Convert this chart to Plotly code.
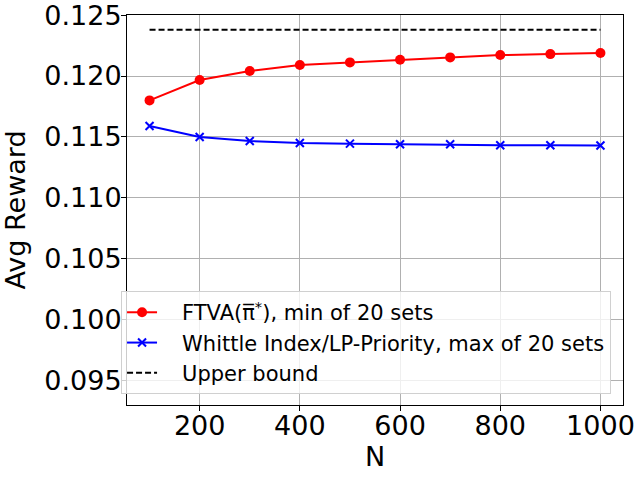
import plotly.graph_objects as go

N = [100, 200, 300, 400, 500, 600, 700, 800, 900, 1000]
ftva = [0.1180, 0.11967, 0.12041, 0.12090, 0.12112, 0.12134, 0.12153, 0.12172, 0.12180, 0.12189]
whittle = [0.1159, 0.1150, 0.11467, 0.11451, 0.11445, 0.11440, 0.11440, 0.11432, 0.11432, 0.11430]
upper = [0.1238] * len(N)
yticks = [0.095, 0.100, 0.105, 0.110, 0.115, 0.120, 0.125]
xticks = [200, 400, 600, 800, 1000]

FONT = "DejaVu Sans"

fig = go.Figure()
fig.add_trace(go.Scatter(x=N, y=ftva, mode="lines+markers",
                         name="   FTVA(π\u0305<sup>*</sup>), min of 20 sets",
                         line=dict(color="red", width=2),
                         marker=dict(symbol="circle", size=10, color="red")))
fig.add_trace(go.Scatter(x=N, y=whittle, mode="lines+markers",
                         name="   Whittle Index/LP-Priority, max of 20 sets",
                         line=dict(color="blue", width=2),
                         marker=dict(symbol="x-thin", size=8, color="blue",
                                     line=dict(color="blue", width=2))))
fig.add_trace(go.Scatter(x=N, y=upper, mode="lines", name="   Upper bound",
                         line=dict(color="black", width=2, dash="6px,3px")))

axis_common = dict(showline=True, linecolor="black", linewidth=1, mirror=True,
                   ticks="outside", ticklen=5, tickcolor="black",
                   showgrid=True, gridcolor="#b0b0b0", gridwidth=1,
                   zeroline=False, automargin=False, ticklabeloverflow="allow",
                   tickfont=dict(family=FONT, size=27, color="black"))

fig.update_layout(
    width=640, height=480,
    margin=dict(l=127, r=17, t=15, b=75),
    plot_bgcolor="white", paper_bgcolor="white",
    font=dict(family=FONT, color="black"),
    xaxis=dict(range=[55, 1045], tickvals=xticks, ticklabelstandoff=-8,
               title=dict(text="N", font=dict(family=FONT, size=27), standoff=4),
               **axis_common),
    yaxis=dict(range=[0.0930, 0.12501], tickvals=yticks, tickformat=".3f",
               ticklabelstandoff=-6,
               title=dict(text="Avg Reward", font=dict(family=FONT, size=27), standoff=13),
               **axis_common),
    legend=dict(x=-0.012, y=0.292, xanchor="left", yanchor="top",
                bgcolor="rgba(255,255,255,0.8)", bordercolor="#d0d0d0", borderwidth=1,
                font=dict(family=FONT, size=21, color="black"),
                itemwidth=30, tracegroupgap=0),
    showlegend=True,
)

fig.write_html("out.html")
